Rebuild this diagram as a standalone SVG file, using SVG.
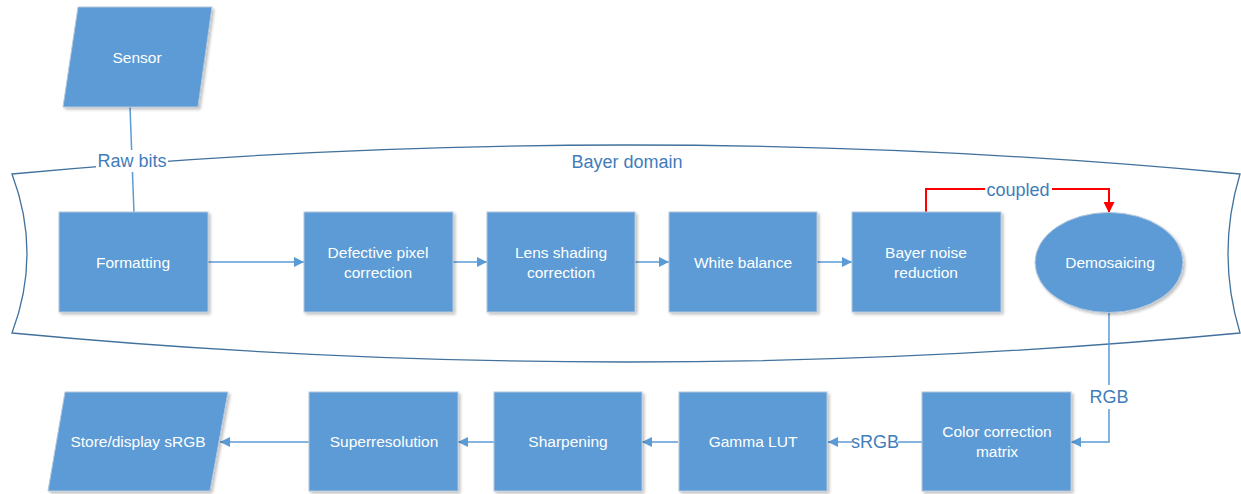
<svg xmlns="http://www.w3.org/2000/svg" width="1241" height="494" viewBox="0 0 1241 494">
  <defs>
    <filter id="shadow" x="-10%" y="-10%" width="125%" height="130%">
      <feGaussianBlur in="SourceAlpha" stdDeviation="1.5"/>
      <feOffset dx="1.5" dy="2" result="blur"/>
      <feComponentTransfer><feFuncA type="linear" slope="0.25"/></feComponentTransfer>
      <feMerge><feMergeNode/><feMergeNode in="SourceGraphic"/></feMerge>
    </filter>
    <marker id="arrow" viewBox="0 0 10 10" refX="10" refY="5" markerWidth="10" markerHeight="10" markerUnits="userSpaceOnUse" orient="auto">
      <path d="M0,0 L10,5 L0,10 Z" fill="#5b9bd5"/>
    </marker>
    <marker id="arrow-red" viewBox="0 0 10 10" refX="10" refY="5" markerWidth="11" markerHeight="11" markerUnits="userSpaceOnUse" orient="auto">
      <path d="M0,0 L10,5 L0,10 Z" fill="#ff0000"/>
    </marker>
  </defs>
  <style>
    .node { fill: #5b9bd5; stroke: #b4c7dc; stroke-width: 1; filter: url(#shadow); }
    .label { font-family: "Liberation Sans", Arial, sans-serif; font-size: 15.5px; fill: #ffffff; text-anchor: middle; }
    .edge { fill: none; stroke: #5b9bd5; stroke-width: 1.5; }
    .edge-red { fill: none; stroke: #ff0000; stroke-width: 2; }
    .elabel { font-family: "Liberation Sans", Arial, sans-serif; font-size: 18px; fill: #3f7dbb; text-anchor: middle; }
    .lblbg { fill: #ffffff; }
    .domain { fill: none; stroke: #41719c; stroke-width: 1.3; }
  </style>
  <rect width="1241" height="494" fill="#ffffff"/>

  <!-- Bayer domain container -->
  <g id="bayer-domain">
    <path class="domain" d="M12,174 Q626,116 1240,174 Q1216,253.5 1240,333 Q626,391 12,333 Q42,253.5 12,174 Z"/>
    <text class="elabel" x="627" y="168">Bayer domain</text>
  </g>

  <!-- Connectors -->
  <g id="connectors">
    <path class="edge" d="M130,107 L134,213"/>
    <path class="edge" d="M208,262 L304,262" marker-end="url(#arrow)"/>
    <path class="edge" d="M453,262 L487,262" marker-end="url(#arrow)"/>
    <path class="edge" d="M635,262 L669,262" marker-end="url(#arrow)"/>
    <path class="edge" d="M817,262 L852,262" marker-end="url(#arrow)"/>
    <path class="edge-red" d="M926,213 L926,189 L1109,189 L1109,213" marker-end="url(#arrow-red)"/>
    <path class="edge" d="M1109,312 L1109,442 L1071,442" marker-end="url(#arrow)"/>
    <path class="edge" d="M922,442 L828,442" marker-end="url(#arrow)"/>
    <path class="edge" d="M678,442 L642,442" marker-end="url(#arrow)"/>
    <path class="edge" d="M494,442 L458,442" marker-end="url(#arrow)"/>
    <path class="edge" d="M309,442 L220,442" marker-end="url(#arrow)"/>

    <!-- connector labels -->
    <rect class="lblbg" x="96" y="150" width="72" height="22"/>
    <text class="elabel" x="132" y="167">Raw bits</text>
    <rect class="lblbg" x="985" y="179" width="67" height="22"/>
    <text class="elabel" x="1018" y="196">coupled</text>
    <rect class="lblbg" x="1092" y="385" width="35" height="24"/>
    <text class="elabel" x="1109" y="403">RGB</text>
    <rect class="lblbg" x="852" y="431" width="46" height="22"/>
    <text class="elabel" x="875" y="448">sRGB</text>
  </g>

  <!-- Nodes -->
  <g id="sensor">
    <polygon class="node" points="78,7 212,7 198,107 63,107"/>
    <text class="label" x="137" y="63">Sensor</text>
  </g>
  <g id="formatting">
    <rect class="node" x="59" y="212" width="149" height="100"/>
    <text class="label" x="133" y="268">Formatting</text>
  </g>
  <g id="defective-pixel">
    <rect class="node" x="304" y="212" width="149" height="100"/>
    <text class="label" x="378" y="258">Defective pixel</text>
    <text class="label" x="378" y="278">correction</text>
  </g>
  <g id="lens-shading">
    <rect class="node" x="487" y="212" width="148" height="100"/>
    <text class="label" x="561" y="258">Lens shading</text>
    <text class="label" x="561" y="278">correction</text>
  </g>
  <g id="white-balance">
    <rect class="node" x="669" y="212" width="148" height="100"/>
    <text class="label" x="743" y="268">White balance</text>
  </g>
  <g id="bayer-noise">
    <rect class="node" x="852" y="212" width="149" height="100"/>
    <text class="label" x="926" y="258">Bayer noise</text>
    <text class="label" x="926" y="278">reduction</text>
  </g>
  <g id="demosaicing">
    <ellipse class="node" cx="1109" cy="262.5" rx="74" ry="50"/>
    <text class="label" x="1110" y="268">Demosaicing</text>
  </g>
  <g id="color-correction">
    <rect class="node" x="922" y="392" width="149" height="99"/>
    <text class="label" x="997" y="437">Color correction</text>
    <text class="label" x="997" y="457">matrix</text>
  </g>
  <g id="gamma-lut">
    <rect class="node" x="679" y="392" width="148" height="99"/>
    <text class="label" x="753" y="447">Gamma LUT</text>
  </g>
  <g id="sharpening">
    <rect class="node" x="494" y="392" width="148" height="99"/>
    <text class="label" x="568" y="447">Sharpening</text>
  </g>
  <g id="superresolution">
    <rect class="node" x="309" y="392" width="149" height="99"/>
    <text class="label" x="384" y="447">Superresolution</text>
  </g>
  <g id="store-display">
    <polygon class="node" points="65,392 228,392 210,491 48,491"/>
    <text class="label" x="138" y="447">Store/display sRGB</text>
  </g>
</svg>
